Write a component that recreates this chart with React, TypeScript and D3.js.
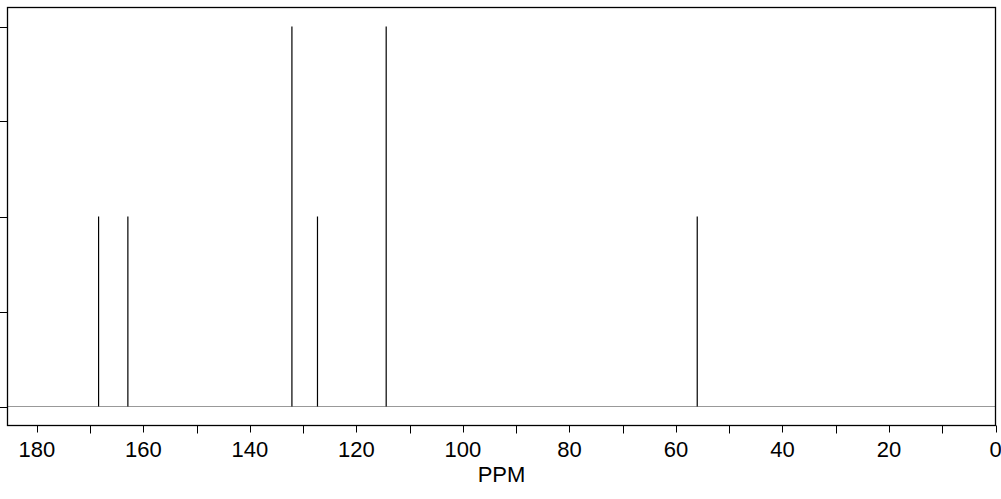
import React from "react";
import * as d3 from "d3";

const peakPpm = [168.4, 162.9, 132.1, 127.3, 114.4, 56.0];
const peakIntensity = [2, 2, 4, 2, 4, 2];
const xTicks = [180, 160, 140, 120, 100, 80, 60, 40, 20, 0];
const xMinorTicks = [170, 150, 130, 110, 90, 70, 50, 30, 10];
const yTicks = [0, 1, 2, 3, 4];
const xLabel = "PPM";

const W = 1001;
const H = 499;
const L = 7.5;
const R = 995.5;
const T = 7.5;
const B = 425.5;

export default function App() {
  const x = d3.scaleLinear().domain([185.5, 0]).range([L, R]);
  const y = d3.scaleLinear().domain([-0.2, 4.2]).range([B, T]);
  const font = "'Liberation Sans', Arial, sans-serif";
  return (
    <svg width={W} height={H} style={{ position: "absolute", left: 0, top: 0, background: "#fff" }}>
      <line x1={L} x2={R} y1={y(0)} y2={y(0)} stroke="#999" strokeWidth={1} />
      {peakPpm.map((p, i) => (
        <line key={i} x1={x(p)} x2={x(p)} y1={y(0)} y2={y(peakIntensity[i])} stroke="#000" strokeWidth={1.2} />
      ))}
      <rect x={L} y={T} width={R - L} height={B - T} fill="none" stroke="#000" strokeWidth={1.3} />
      {yTicks.map((t) => (
        <line key={t} x1={0} x2={L} y1={Math.round(y(t)) + 0.5} y2={Math.round(y(t)) + 0.5} stroke="#000" strokeWidth={1} />
      ))}
      {xTicks.map((t) => (
        <g key={t}>
          <line x1={Math.round(x(t)) + 0.5} x2={Math.round(x(t)) + 0.5} y1={B} y2={B + 7} stroke="#000" strokeWidth={1} />
          <text x={x(t)} y={457} textAnchor="middle" fontFamily={font} fontSize={22} fill="#000">{t}</text>
        </g>
      ))}
      {xMinorTicks.map((t) => (
        <line key={t} x1={Math.round(x(t)) + 0.5} x2={Math.round(x(t)) + 0.5} y1={B} y2={B + 8} stroke="#000" strokeWidth={1} />
      ))}
      <text x={(L + R) / 2 + 0} y={482} textAnchor="middle" fontFamily={font} fontSize={22} fill="#000">{xLabel}</text>
    </svg>
  );
}
